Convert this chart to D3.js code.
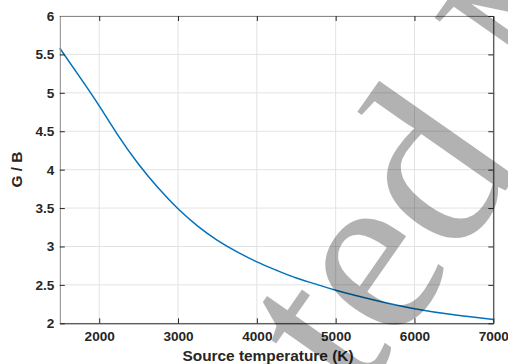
<!DOCTYPE html>
<html><head><meta charset="utf-8">
<script src="https://cdn.jsdelivr.net/npm/d3@7"></script>
<style>body{margin:0;background:#fff;} svg{display:block;}</style>
</head><body>
<svg id="c" width="508" height="364"></svg>
<script>
const temps = [1500,1750,2000,2250,2500,2750,3000,3250,3500,3750,4000,4250,4500,4750,5000,5500,6000,6500,7000];
const ratio = [5.58,5.21,4.83,4.43,4.07,3.76,3.49,3.265,3.08,2.93,2.80,2.69,2.59,2.51,2.43,2.30,2.19,2.11,2.05];
const xTicks = [2000,3000,4000,5000,6000,7000];
const yTicks = [2,2.5,3,3.5,4,4.5,5,5.5,6];
const xLabel = "Source temperature (K)";
const yLabel = "G / B";
const watermark = "Accepted Manuscript";

const svg = d3.select("#c");
const L=59.8,R=493.3,T=16,B=323.3;
const x = d3.scaleLinear().domain([1500,7000]).range([L,R]);
const y = d3.scaleLinear().domain([2,6]).range([B,T]);
const font = "'Liberation Sans', Arial, sans-serif";
const ink = "#262626";

svg.append("g").selectAll("line").data(xTicks).join("line")
  .attr("x1",d=>x(d)).attr("x2",d=>x(d)).attr("y1",T).attr("y2",B)
  .attr("stroke","#e3e3e3").attr("stroke-width",1);
svg.append("g").selectAll("line").data(yTicks).join("line")
  .attr("y1",d=>y(d)).attr("y2",d=>y(d)).attr("x1",L).attr("x2",R)
  .attr("stroke","#e3e3e3").attr("stroke-width",1);

svg.append("path").datum(temps.map((t,i)=>[t,ratio[i]]))
  .attr("d", d3.line().x(d=>x(d[0])).y(d=>y(d[1])).curve(d3.curveNatural))
  .attr("fill","none").attr("stroke","#0072BD").attr("stroke-width",1.5);

const xb = d3.axisBottom(x).tickValues(xTicks).tickSizeInner(-5).tickSizeOuter(0).tickPadding(8.5).tickFormat(d3.format("d"));
const gx = svg.append("g").attr("transform",`translate(0,${B})`).call(xb);
const yl = d3.axisLeft(y).tickValues(yTicks).tickSizeInner(-5).tickSizeOuter(0).tickPadding(5.5).tickFormat(d=>String(d));
const gy = svg.append("g").attr("transform",`translate(${L},0)`).call(yl);
const xt = d3.axisTop(x).tickValues(xTicks).tickSizeInner(-5).tickSizeOuter(0).tickFormat("");
const gxt = svg.append("g").attr("transform",`translate(0,${T})`).call(xt);
const yr = d3.axisRight(y).tickValues(yTicks).tickSizeInner(-5).tickSizeOuter(0).tickFormat("");
const gyr = svg.append("g").attr("transform",`translate(${R},0)`).call(yr);
[gx,gy,gxt,gyr].forEach(g=>{
  g.selectAll("text").attr("font-family",font).attr("font-weight","bold").attr("font-size",13.6).attr("fill",ink);
  g.selectAll("line").attr("stroke",ink);
});
gx.select(".domain").attr("stroke",ink);
gyr.select(".domain").attr("stroke",ink);
gy.select(".domain").attr("stroke","#8a8a8a");
gxt.select(".domain").attr("stroke","#8a8a8a");

svg.append("text").attr("x",268).attr("y",360.5).attr("text-anchor","middle")
  .attr("font-family",font).attr("font-weight","bold").attr("font-size",15.4).attr("fill",ink).text(xLabel);
svg.append("text").attr("transform",`translate(22,${(T+B)/2}) rotate(-90)`).attr("text-anchor","middle")
  .attr("font-family",font).attr("font-weight","bold").attr("font-size",15.4).attr("fill",ink).text(yLabel);

// watermark overlay
const wm = svg.append("g").attr("transform","translate(357,403) rotate(-55)")
  .append("text").attr("x",0).attr("y",0)
  .attr("font-family","'Liberation Serif', 'Times New Roman', serif").attr("font-size",240)
  .attr("fill","#000").attr("fill-opacity",0.3).text(watermark);
const off = wm.node().getStartPositionOfChar(5).x;
wm.attr("x",-off);
</script>
</body></html>
